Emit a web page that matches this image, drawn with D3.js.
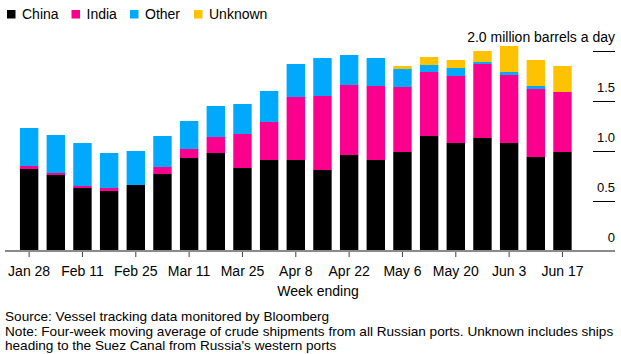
<!DOCTYPE html>
<html>
<head>
<meta charset="utf-8">
<script src="https://cdn.jsdelivr.net/npm/d3@7"></script>
<style>
  body { margin: 0; background: #fff; }
  svg { display: block; font-family: "Liberation Sans", Arial, sans-serif; }
</style>
</head>
<body>
<div id="chartDiv"></div>
<script>
const weeks = ['Jan 28', 'Feb 4', 'Feb 11', 'Feb 18', 'Feb 25', 'Mar 4', 'Mar 11', 'Mar 18', 'Mar 25', 'Apr 1',
    'Apr 8', 'Apr 15', 'Apr 22', 'Apr 29', 'May 6', 'May 13', 'May 20', 'May 27', 'Jun 3', 'Jun 10', 'Jun 17'];
const tickWeeks = ['Jan 28', 'Feb 11', 'Feb 25', 'Mar 11', 'Mar 25', 'Apr 8', 'Apr 22', 'May 6', 'May 20', 'Jun 3', 'Jun 17'];

const china   = [0.82, 0.76, 0.63, 0.60, 0.66, 0.77, 0.93, 0.98, 0.83, 0.91, 0.91, 0.81, 0.96, 0.91, 0.99, 1.15, 1.08, 1.13, 1.08, 0.94, 0.99];
const india   = [0.03, 0.02, 0.02, 0.03, 0.00, 0.07, 0.09, 0.16, 0.34, 0.38, 0.63, 0.74, 0.70, 0.74, 0.65, 0.64, 0.67, 0.74, 0.68, 0.68, 0.60];
const other   = [0.38, 0.38, 0.43, 0.35, 0.34, 0.31, 0.28, 0.31, 0.30, 0.31, 0.33, 0.38, 0.30, 0.28, 0.18, 0.07, 0.08, 0.02, 0.03, 0.03, 0.00];
const unknown = [0, 0, 0, 0, 0, 0, 0, 0, 0, 0, 0, 0, 0, 0, 0.03, 0.08, 0.08, 0.11, 0.26, 0.26, 0.26];

const seriesNames = ['China', 'India', 'Other', 'Unknown'];
const colors = ['#000000', '#fb008e', '#00a9fb', '#ffc200'];
const yTicks = [0, 0.5, 1.0, 1.5, 2.0];

const W = 621, H = 354;

const table = weeks.map((w, i) => ({ week: w, China: china[i], India: india[i], Other: other[i], Unknown: unknown[i] }));

const svg = d3.select('#chartDiv').append('svg')
    .attr('width', W)
    .attr('height', H);

// legend
const legend = svg.append('g');
const legendX = [7, 71.5, 130, 194];
seriesNames.forEach((name, i) => {
    legend.append('rect')
        .attr('x', legendX[i]).attr('y', 10)
        .attr('width', 8.5).attr('height', 8.5)
        .attr('fill', colors[i]);
    legend.append('text')
        .attr('x', legendX[i] + 15).attr('y', 19)
        .attr('font-size', 14)
        .attr('fill', '#000')
        .text(name);
});

const x = d3.scaleBand()
    .domain(weeks)
    .range([15.8, 575.8])
    .paddingInner(0.31)
    .paddingOuter(0.155);

const y = d3.scaleLinear()
    .domain([0, 2])
    .range([251, 51]);

// y ticks on the right
const yg = svg.append('g');
yg.selectAll('.tick-line')
    .data(yTicks.filter(d => d > 0))
    .enter().append('line')
    .attr('x1', 593).attr('x2', 615)
    .attr('y1', d => y(d) + 0.5).attr('y2', d => y(d) + 0.5)
    .attr('stroke', '#000')
    .attr('stroke-width', 1);
yg.selectAll('.tick-label')
    .data(yTicks)
    .enter().append('text')
    .attr('x', 615)
    .attr('y', d => y(d) - 9)
    .attr('text-anchor', 'end')
    .attr('font-size', d => d === 2 ? 14 : 13)
    .attr('fill', '#000')
    .text(d => d === 0 ? '0' : d === 2 ? d3.format('.1f')(d) + ' million barrels a day' : d3.format('.1f')(d));

// stacked bars
const stack = d3.stack().keys(seriesNames);
const layers = stack(table);

svg.append('g').selectAll('g')
    .data(layers)
    .enter().append('g')
    .attr('fill', (d, i) => colors[i])
    .selectAll('rect')
    .data(d => d)
    .enter().append('rect')
    .attr('x', d => x(d.data.week))
    .attr('width', x.bandwidth())
    .attr('y', d => y(d[1]))
    .attr('height', d => Math.max(0, y(d[0]) - y(d[1])));

// baseline + x axis
svg.append('line')
    .attr('x1', 5).attr('x2', 615)
    .attr('y1', 251).attr('y2', 251)
    .attr('stroke', '#8a8a8a')
    .attr('stroke-width', 2);

const xAxis = svg.append('g')
    .attr('transform', 'translate(0,252)')
    .call(d3.axisBottom(x).tickValues(tickWeeks).tickSize(5).tickSizeOuter(0).tickPadding(9));
xAxis.select('.domain').remove();
xAxis.selectAll('.tick line').attr('stroke', '#444');
xAxis.selectAll('.tick text')
    .attr('font-size', 14)
    .attr('font-family', '"Liberation Sans", Arial, sans-serif')
    .attr('fill', '#000');

svg.append('text')
    .attr('x', 318).attr('y', 296)
    .attr('text-anchor', 'middle')
    .attr('font-size', 14)
    .text('Week ending');

const notes = [
    'Source: Vessel tracking data monitored by Bloomberg',
    'Note: Four-week moving average of crude shipments from all Russian ports. Unknown includes ships',
    'heading to the Suez Canal from Russia\'s western ports'
];
svg.append('g').selectAll('text')
    .data(notes)
    .enter().append('text')
    .attr('x', 5)
    .attr('y', (d, i) => 321 + i * 14.5)
    .attr('font-size', 13.6)
    .attr('fill', '#000')
    .text(d => d);
</script>
</body>
</html>
